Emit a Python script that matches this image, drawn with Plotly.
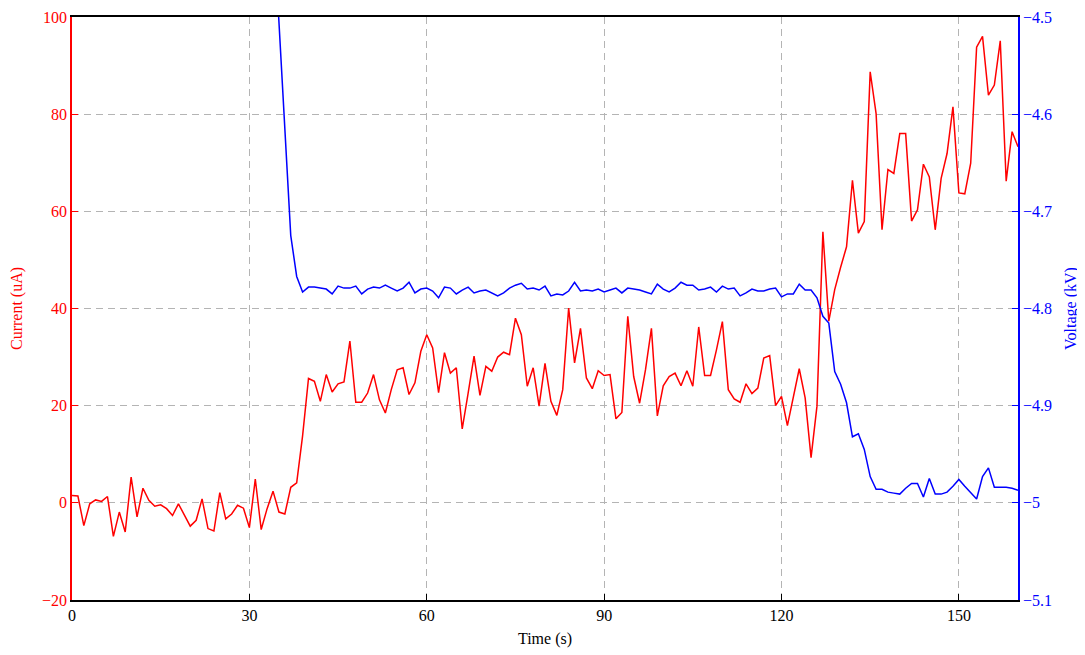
import plotly.graph_objects as go

time_s = list(range(0, 161))

current_uA = [
    1.5, 1.4, -4.7, -0.2, 0.6, 0.3, 1.3, -6.9, -1.9, -6.0,
    5.3, -2.9, 3.0, 0.5, -0.7, -0.4, -1.2, -2.6, -0.2, -2.6,
    -4.8, -3.6, 0.8, -5.3, -5.8, 2.1, -3.3, -2.3, -0.5, -1.1,
    -5.1, 4.9, -5.5, -1.2, 2.4, -1.9, -2.3, 3.2, 4.1, 13.8,
    25.6, 25.0, 20.9, 26.4, 22.8, 24.5, 24.9, 33.3, 20.7, 20.7,
    22.6, 26.4, 21.2, 18.5, 23.3, 27.4, 27.8, 22.3, 24.7, 31.2,
    34.6, 31.9, 22.7, 30.9, 26.7, 27.8, 15.2, 22.6, 30.2, 22.1,
    28.1, 27.1, 30.0, 31.0, 30.5, 38.0, 34.6, 24.0, 27.8, 19.9,
    28.7, 20.9, 18.0, 23.3, 40.1, 28.8, 35.9, 25.7, 23.5, 27.2,
    26.2, 26.4, 17.3, 18.6, 38.4, 26.0, 20.5, 27.4, 35.9, 17.9,
    24.1, 26.0, 26.7, 24.1, 27.2, 24.0, 36.2, 26.2, 26.2, 31.5,
    37.3, 23.3, 21.4, 20.7, 24.5, 22.5, 23.6, 29.8, 30.3, 20.0,
    21.9, 15.9, 21.9, 27.6, 21.6, 9.3, 19.9, 55.8, 37.4, 43.9,
    48.5, 52.7, 66.4, 55.5, 57.9, 88.7, 80.1, 56.2, 68.6, 67.8,
    76.0, 76.0, 58.0, 60.3, 69.7, 67.1, 56.2, 66.8, 71.9, 81.5,
    63.8, 63.6, 69.9, 93.8, 96.0, 83.9, 86.0, 95.1, 66.2, 76.4,
    73.3,
]

voltage_kV = [
    -4.400, -4.400, -4.400, -4.400, -4.400, -4.400, -4.400, -4.400, -4.400, -4.400,
    -4.400, -4.400, -4.400, -4.400, -4.400, -4.400, -4.400, -4.400, -4.400, -4.400,
    -4.400, -4.400, -4.400, -4.400, -4.400, -4.400, -4.400, -4.400, -4.400, -4.400,
    -4.400, -4.400, -4.400, -4.400, -4.400, -4.505, -4.612, -4.725, -4.767, -4.783,
    -4.778, -4.778, -4.779, -4.780, -4.785, -4.777, -4.779, -4.779, -4.777, -4.785,
    -4.780, -4.778, -4.779, -4.776, -4.779, -4.782, -4.779, -4.773, -4.784, -4.780,
    -4.779, -4.782, -4.789, -4.778, -4.779, -4.785, -4.781, -4.778, -4.784, -4.782,
    -4.781, -4.784, -4.787, -4.784, -4.779, -4.776, -4.774, -4.780, -4.779, -4.781,
    -4.777, -4.787, -4.785, -4.786, -4.782, -4.773, -4.782, -4.781, -4.782, -4.780,
    -4.783, -4.781, -4.779, -4.784, -4.779, -4.780, -4.781, -4.783, -4.785, -4.775,
    -4.780, -4.783, -4.779, -4.773, -4.776, -4.776, -4.781, -4.780, -4.778, -4.783,
    -4.777, -4.780, -4.779, -4.787, -4.784, -4.780, -4.782, -4.782, -4.780, -4.779,
    -4.788, -4.785, -4.785, -4.775, -4.781, -4.781, -4.789, -4.808, -4.815, -4.865,
    -4.878, -4.897, -4.932, -4.929, -4.945, -4.973, -4.986, -4.986, -4.989, -4.990,
    -4.991, -4.985, -4.980, -4.980, -4.994, -4.975, -4.991, -4.991, -4.989, -4.983,
    -4.976, -4.983, -4.989, -4.996, -4.973, -4.964, -4.984, -4.984, -4.984, -4.985,
    -4.987,
]

x_ticks = [0, 30, 60, 90, 120, 150]
current_ticks = [-20, 0, 20, 40, 60, 80, 100]
voltage_ticks = [-5.1, -5.0, -4.9, -4.8, -4.7, -4.6, -4.5]

RED = "#ff0000"
BLUE = "#0000ff"
FONT = "Liberation Serif"

fig = go.Figure()
fig.add_trace(go.Scatter(x=time_s, y=current_uA, mode="lines",
                         line=dict(color=RED, width=1.5), yaxis="y",
                         showlegend=False, hoverinfo="skip"))
fig.add_trace(go.Scatter(x=time_s, y=voltage_kV, mode="lines",
                         line=dict(color=BLUE, width=1.5), yaxis="y2",
                         showlegend=False, hoverinfo="skip"))

# page body has an 8px margin, so the figure is sized to fit inside the window
fig.update_layout(
    width=1077, height=647,
    margin=dict(l=64, r=67, t=9, b=55),
    paper_bgcolor="white", plot_bgcolor="white",
    font=dict(family=FONT, size=16, color="black"),
    xaxis=dict(
        range=[0, 160], tickvals=x_ticks, ticks="inside", ticklen=6,
        tickcolor="black", tickwidth=1.2, automargin=False,
        showline=True, linecolor="black", linewidth=1.5, mirror=True,
        showgrid=True, gridcolor="#b4b4b4", gridwidth=1, griddash="7px,5px",
        zeroline=False,
        tickfont=dict(family=FONT, size=16, color="black"),
        title=dict(text="Time (s)", font=dict(family=FONT, size=16, color="black"), standoff=10),
    ),
    yaxis=dict(
        range=[-20, 100], tickvals=current_ticks, ticks="inside", ticklen=6,
        tickcolor=RED, tickwidth=1.2, automargin=False,
        showline=True, linecolor=RED, linewidth=1.5,
        showgrid=True, gridcolor="#b4b4b4", gridwidth=1, griddash="7px,5px",
        zeroline=False,
        tickfont=dict(family=FONT, size=16, color=RED),
        title=dict(text="Current (uA)", font=dict(family=FONT, size=16, color=RED), standoff=18),
    ),
    yaxis2=dict(
        range=[-5.1, -4.5], tickvals=voltage_ticks, ticks="inside", ticklen=6,
        tickcolor=BLUE, tickwidth=1.2, automargin=False,
        showline=True, linecolor=BLUE, linewidth=1.5,
        overlaying="y", side="right", anchor="x",
        showgrid=False, zeroline=False,
        tickfont=dict(family=FONT, size=16, color=BLUE),
        title=dict(text="Voltage (kV)", font=dict(family=FONT, size=16, color=BLUE), standoff=14),
    ),
)

fig.write_html("out.html")
